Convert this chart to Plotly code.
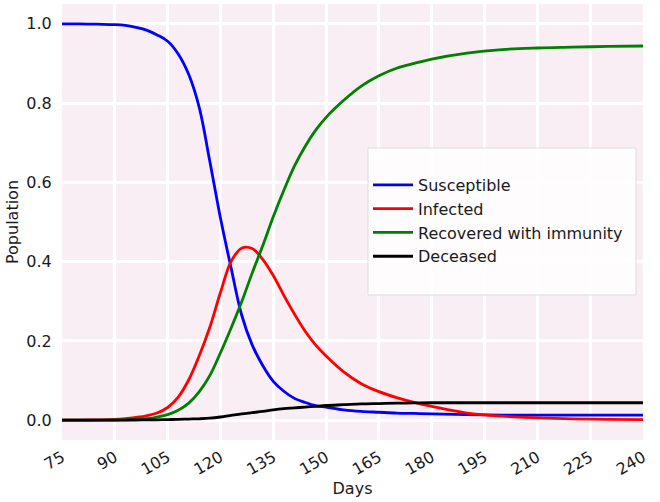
import plotly.graph_objects as go

days = [75, 80, 85, 90, 93, 96, 99, 102, 105, 108, 111, 114, 117, 120, 123, 126,
        129, 132, 135, 138, 141, 144, 147, 150, 155, 160, 165, 170, 175, 180,
        190, 200, 210, 220, 230, 240]

susceptible = [1.000, 1.000, 0.999, 0.998, 0.996, 0.991, 0.984, 0.972, 0.956, 0.924,
               0.872, 0.788, 0.652, 0.51, 0.385, 0.266, 0.19, 0.138, 0.098, 0.073,
               0.055, 0.045, 0.037, 0.033, 0.026, 0.022, 0.020, 0.018, 0.017, 0.016,
               0.014, 0.013, 0.013, 0.013, 0.013, 0.013]

infected = [0.000, 0.0003, 0.0008, 0.002, 0.004, 0.007, 0.011, 0.018, 0.032, 0.058,
            0.102, 0.163, 0.235, 0.322, 0.400, 0.434, 0.433, 0.406, 0.365, 0.315,
            0.268, 0.225, 0.190, 0.162, 0.122, 0.092, 0.072, 0.057, 0.045, 0.035,
            0.018, 0.010, 0.006, 0.0035, 0.002, 0.0015]

recovered = [0.000, 0.0001, 0.0002, 0.0005, 0.001, 0.002, 0.004, 0.008, 0.014, 0.025,
             0.043, 0.072, 0.113, 0.170, 0.232, 0.298, 0.371, 0.440, 0.513, 0.580,
             0.641, 0.690, 0.731, 0.764, 0.807, 0.843, 0.869, 0.888, 0.900, 0.911,
             0.926, 0.935, 0.939, 0.941, 0.943, 0.944]

deceased = [0.000, 0.000, 0.000, 0.0002, 0.0003, 0.0005, 0.0008, 0.001, 0.0015, 0.002,
            0.0028, 0.0035, 0.005, 0.008, 0.012, 0.016, 0.019, 0.022, 0.026, 0.029,
            0.031, 0.033, 0.035, 0.037, 0.039, 0.041, 0.042, 0.043, 0.0435, 0.044,
            0.044, 0.044, 0.044, 0.044, 0.044, 0.044]

series = [
    ("Susceptible", susceptible, "#0000ff"),
    ("Infected", infected, "#ff0000"),
    ("Recovered with immunity", recovered, "#008000"),
    ("Deceased", deceased, "#000000"),
]

x_ticks = list(range(75, 241, 15))
y_ticks = [0.0, 0.2, 0.4, 0.6, 0.8, 1.0]

fig = go.Figure()
for name, vals, col in series:
    fig.add_trace(go.Scatter(
        x=days, y=vals, mode="lines", name=name,
        line=dict(color=col, width=2.8, shape="spline", smoothing=1.0),
    ))

font_family = "DejaVu Sans, Liberation Sans, sans-serif"
txt = "#1a1a1a"
fs = 16

fig.update_layout(
    width=660, height=502,
    margin=dict(l=62, r=17, t=4, b=62),
    paper_bgcolor="white",
    plot_bgcolor="#f9eef4",
    font=dict(family=font_family, size=fs, color=txt),
    showlegend=True,
    legend=dict(
        x=(368 - 62) / 581, y=0.624, xanchor="left", yanchor="top",
        bgcolor="rgba(0,0,0,0)", borderwidth=0,
        font=dict(size=fs, color=txt),
        tracegroupgap=0, itemwidth=40,
    ),
    shapes=[dict(
        type="rect", xref="paper", yref="paper",
        x0=(368 - 62) / 581, x1=(636 - 62) / 581,
        y0=(440 - 295) / 436, y1=(440 - 148) / 436,
        fillcolor="rgba(255,255,255,0.8)",
        line=dict(color="#dddddd", width=1),
        layer="above",
    )],
)

fig.update_xaxes(
    range=[75, 240], tickvals=x_ticks, ticktext=[str(v) for v in x_ticks],
    tickangle=-30, showgrid=True, gridcolor="white", gridwidth=2.5,
    zeroline=False, showline=False,
    ticks="outside", ticklen=1, tickcolor="rgba(0,0,0,0)",
    title=dict(text="Days", font=dict(size=fs, color=txt), standoff=3),
    tickfont=dict(size=fs, color=txt),
)
fig.update_yaxes(
    range=[-0.05, 1.05], tickvals=y_ticks, ticktext=[f"{v:.1f}" for v in y_ticks],
    showgrid=True, gridcolor="white", gridwidth=2.5,
    zeroline=False, showline=False,
    ticks="outside", ticklen=6, tickcolor="rgba(0,0,0,0)",
    title=dict(text="Population", font=dict(size=fs, color=txt), standoff=3),
    tickfont=dict(size=fs, color=txt),
)

fig.write_html("out.html")
